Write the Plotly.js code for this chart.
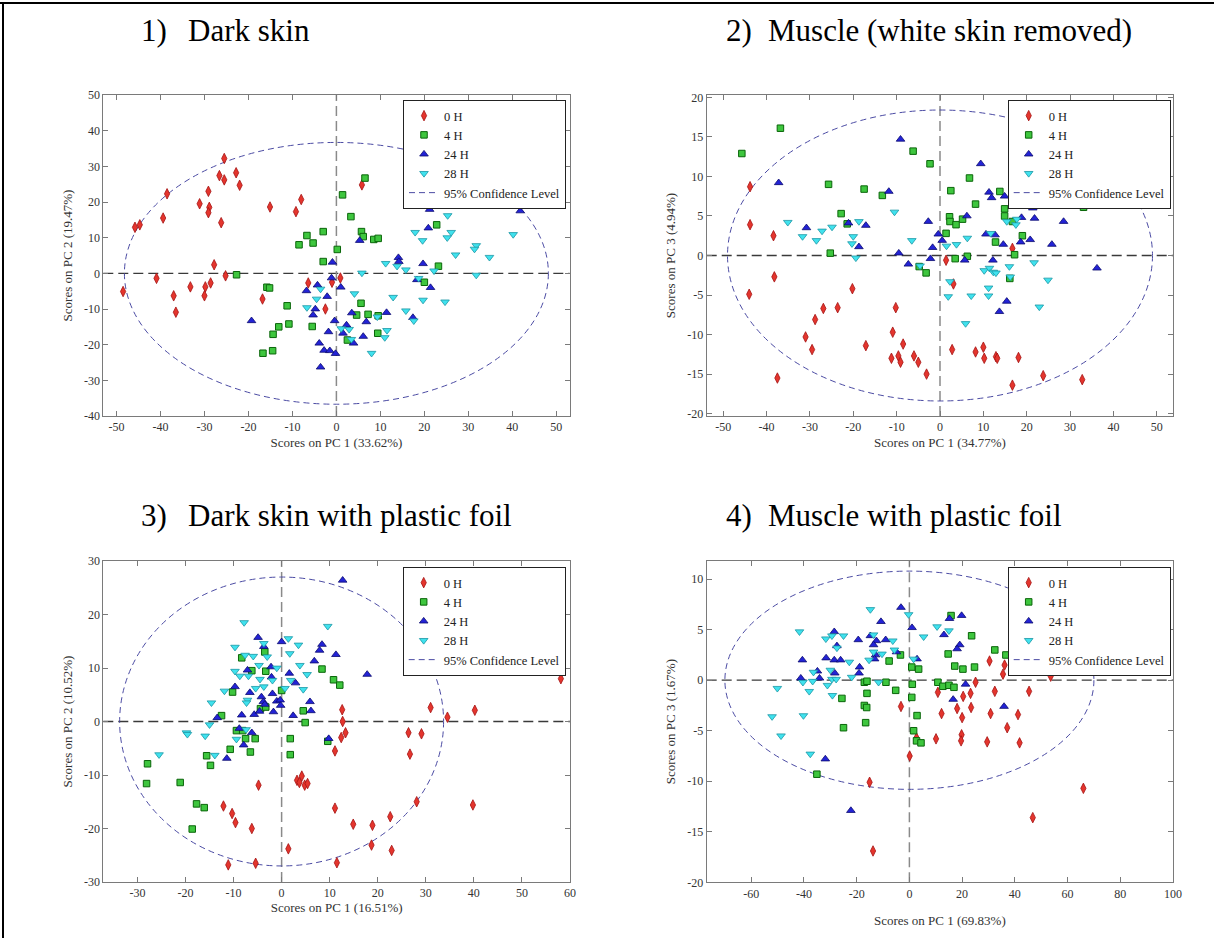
<!DOCTYPE html>
<html>
<head>
<meta charset="utf-8">
<script src="https://cdn.plot.ly/plotly-3.0.1.min.js"></script>
<style>html,body{margin:0;padding:0;background:#fff;}#chart{width:1214px;height:938px;}</style>
</head>
<body>
<div id="chart"></div>
<script>
// ---------------- DATA ----------------
const groupNames = ['0 H', '4 H', '24 H', '28 H'];
const confName = '95% Confidence Level';
const panelTitles = ['Dark skin', 'Muscle (white skin removed)', 'Dark skin with plastic foil', 'Muscle with plastic foil'];
const panelNumbers = ['1)', '2)', '3)', '4)'];
const xTitles = ['Scores on PC 1 (33.62%)', 'Scores on PC 1 (34.77%)', 'Scores on PC 1 (16.51%)', 'Scores on PC 1 (69.83%)'];
const yTitles = ['Scores on PC 2 (19.47%)', 'Scores on PC 3 (4.94%)', 'Scores on PC 2 (10.52%)', 'Scores on PC 3 (1.67%)'];

// 95% confidence ellipse semi-axes (PC x, PC y)
const ellipseA = [48.2, 49.0, 33.7, 70.0];
const ellipseB = [36.7, 18.4, 27.0, 10.8];

// tick labels
const p1_xticks = [-50, -40, -30, -20, -10, 0, 10, 20, 30, 40, 50];
const p1_yticks = [-40, -30, -20, -10, 0, 10, 20, 30, 40, 50];
const p2_xticks = [-50, -40, -30, -20, -10, 0, 10, 20, 30, 40, 50];
const p2_yticks = [-20, -15, -10, -5, 0, 5, 10, 15, 20];
const p3_xticks = [-30, -20, -10, 0, 10, 20, 30, 40, 50, 60];
const p3_yticks = [-30, -20, -10, 0, 10, 20, 30];
const p4_xticks = [-60, -40, -20, 0, 20, 40, 60, 80, 100];
const p4_yticks = [-20, -15, -10, -5, 0, 5, 10];

// ---- Panel 1: Dark skin ----
const p1_h0_x = [-45.8, -44.7, -48.5, -38.5, -39.4, -40.9, -37.0, -36.5, -33.2, -31.1, -29.8, -30.0, -29.1, -28.9, -29.1, -28.6, -27.8, -26.2, -26.6, -25.5, -25.5, -22.8, -22.0, -25.2, -16.8, -15.1, -9.2, -8.0, -6.4, 5.8, -1.0, 0.9, -2.5];
const p1_h0_y = [12.9, 13.6, -5.1, 22.3, 15.5, -1.4, -6.3, -10.9, -3.8, 19.5, -3.8, -6.3, 23.0, 18.5, 17.0, -2.7, 2.4, 14.2, 27.4, 32.2, 26.2, 28.2, 24.7, -0.7, -7.2, 18.6, 17.3, 20.7, -2.7, 24.8, -2.5, -1.3, -10.0];
const p1_h4_x = [-22.7, -6.7, -8.5, -5.3, -15.8, -15.2, -11.2, -10.8, -13.1, -14.4, -14.5, -16.7, -5.5, 6.5, 1.4, 3.3, -3.0, 5.7, 6.1, 8.5, 9.5, 0.2, -3.0, 22.8, 23.2, 20.0, 5.6, 4.6, 7.2, 9.5, 9.4, 2.5];
const p1_h4_y = [-0.4, 10.6, 8.0, 8.5, -3.9, -4.1, -9.1, -14.2, -15.0, -17.1, -21.7, -22.4, -14.9, 26.7, 22.0, 15.9, 11.7, 11.7, 10.3, 9.5, 9.8, 6.7, 3.3, 13.6, 2.0, -2.5, -8.4, -11.7, -11.5, -11.9, -16.8, -18.7];
const p1_h24_x = [-19.3, -6.8, -5.3, 21.2, 20.9, 41.8, 5.3, -0.9, 14.1, 14.2, 19.7, -1.1, 1.0, 18.3, 21.4, -4.3, -2.1, -4.8, 3.5, 6.8, 11.4, 17.4, -0.4, -1.8, 2.3, 1.5, -3.9, -2.8, -1.5, -0.2, 3.9, 6.1, -3.6];
const p1_h24_y = [-13.3, -4.9, -11.7, 17.9, 12.7, 17.5, 9.2, 3.1, 4.4, 3.3, 2.7, -1.3, -3.9, -1.8, -4.0, -3.3, -6.5, -10.0, -11.1, -13.6, -11.0, -12.4, -13.3, -16.4, -14.5, -16.8, -19.6, -21.6, -21.7, -22.5, -19.6, -17.7, -26.3];
const p1_h28_x = [-6.7, 25.3, 17.9, 26.1, 19.6, 25.2, 40.2, 31.8, 31.4, 27.1, 34.8, 11.2, 13.8, 15.8, 5.8, 22.2, 31.8, 18.7, -3.6, -4.5, 4.1, 12.9, 19.7, 24.7, 15.8, 17.6, 9.3, 1.1, 2.9, 11.5, 11.0, 3.4, 8.0];
const p1_h28_y = [-9.6, 16.2, 11.5, 11.5, 9.2, 10.0, 10.9, 7.8, 6.8, 5.2, 4.5, 2.8, 2.0, 1.0, 0.1, 0.7, -0.5, -1.4, -4.4, -7.2, -5.7, -6.7, -7.5, -8.0, -10.5, -13.3, -12.2, -15.5, -15.7, -16.0, -18.0, -18.5, -22.4];

// ---- Panel 2: Muscle (white skin removed) ----
const p2_h0_x = [-43.8, -43.8, -44.0, -38.4, -38.2, -37.5, -31.0, -29.5, -28.8, -26.9, -23.6, -20.2, -17.1, -10.2, -10.9, -8.5, -11.2, -9.6, -9.1, -6.0, -5.0, -3.1, 1.4, 3.1, 2.8, 8.2, 10.0, 10.2, 12.9, 13.2, 18.1, 16.7, 23.8, 32.8, 16.7];
const p2_h0_y = [8.7, 3.9, -4.9, 2.5, -2.7, -15.5, -10.3, -11.9, -8.1, -6.7, -6.6, -4.2, -11.4, -6.6, -9.7, -11.2, -13.0, -12.7, -13.5, -12.7, -13.5, -15.0, -0.6, -3.6, -11.9, -12.2, -11.6, -13.0, -12.8, -13.0, -12.9, -16.4, -15.2, -15.7, 0.9];
const p2_h4_x = [-45.7, -36.8, -25.7, -17.5, -13.3, -22.8, -21.4, -25.3, -6.2, -4.8, -2.3, 6.8, 2.5, 13.8, 21.8, 8.2, 14.9, 14.9, 2.2, 2.3, 3.7, 5.2, 16.7, 33.1, 1.4, 12.8, 19.0, 17.2, 6.3, 3.5, -3.2, 16.1];
const p2_h4_y = [12.9, 16.1, 9.0, 8.4, 7.6, 5.3, 4.0, 0.3, 13.2, -1.4, 11.6, 9.8, 8.2, 8.1, 7.8, 6.5, 5.9, 5.0, 4.9, 4.3, 3.9, 4.6, 4.3, 6.1, 2.8, 1.7, 2.5, 0.1, -0.1, -0.4, -2.2, -2.9];
const p2_h24_x = [-37.2, -30.8, -21.1, -17.1, -18.7, -11.8, -9.1, -9.5, -7.3, 9.4, 11.3, 11.9, 14.9, 27.3, 21.4, 21.8, 28.5, 18.8, 6.2, -2.7, -0.4, 0.5, -1.7, -2.2, 10.6, 12.7, 14.6, 18.6, 20.8, 25.8, 12.2, 5.7, 15.4, 13.7, 36.2];
const p2_h24_y = [9.2, 3.5, 4.1, 3.8, 1.1, 8.1, 14.7, 0.3, -1.1, 11.6, 8.0, 7.3, 7.5, 7.6, 6.0, 4.7, 4.3, 4.8, 5.0, 4.3, 2.7, 1.9, 1.0, -0.4, 2.7, 2.6, 1.4, 1.7, 2.0, 1.4, -0.6, -0.6, -5.8, -7.1, -1.6];
const p2_h28_x = [-35.1, -31.7, -28.5, -27.2, -24.9, -20.0, -18.7, -20.3, -19.4, -10.5, -6.5, -4.6, 1.5, 3.8, 6.3, 11.7, 15.4, 17.5, 17.7, 10.2, 11.4, 12.3, 12.9, 16.0, 16.2, 21.7, 24.9, 2.3, 1.9, 7.2, 11.2, 11.2, 22.9, 5.9];
const p2_h28_y = [4.2, 2.4, 1.9, 3.1, 3.6, 2.4, 4.3, 1.5, -0.3, 5.5, 1.9, -1.3, 1.2, 1.4, 2.2, 2.8, 4.3, 3.9, 4.6, -1.9, -1.6, -2.1, -2.2, -1.4, -2.7, -0.9, -3.1, -3.3, -5.2, -5.1, -4.1, -5.1, -6.5, -8.6];

// ---- Panel 3: Dark skin with plastic foil ----
const p3_h0_x = [-11.1, -5.4, 1.4, -12.1, -10.3, -9.6, -4.8, -6.2, 4.2, 3.2, 3.7, 4.8, 5.4, 58.1, 12.6, 12.7, 12.4, 13.3, 11.1, 31.0, 34.5, 40.2, 26.4, 29.1, 26.7, 28.1, 39.8, 11.1, 14.9, 18.9, 22.6, 18.7, 22.9, 11.5];
const p3_h0_y = [-26.8, -26.5, -23.8, -15.8, -17.2, -18.9, -11.9, -20.0, -10.2, -11.0, -11.4, -11.9, -11.6, 8.0, 2.2, 0.0, -3.0, -2.1, -5.5, 2.6, 0.8, 2.1, -2.1, -2.3, -6.1, -15.0, -15.6, -16.2, -19.2, -19.4, -17.8, -23.1, -24.1, -26.4];
const p3_h4_x = [-27.9, -28.1, -21.1, -17.7, -16.1, -18.6, -15.6, -14.8, -12.5, -10.7, -9.4, -8.1, -7.5, -5.5, -6.5, -10.2, -8.3, -6.2, -3.3, -3.5, -4.4, -3.3, 0.0, 4.5, 4.9, 1.8, 1.8, 8.4, 10.8, 12.1, 9.6];
const p3_h4_y = [-7.9, -11.6, -11.4, -15.4, -16.1, -20.1, -6.4, -8.2, 1.1, -5.2, -1.7, -1.7, -3.2, -3.2, -5.7, 5.5, 11.9, 9.5, 9.4, 13.0, 2.4, 2.7, 5.8, 2.0, -0.2, -3.2, -6.2, 9.8, 7.8, 6.8, -3.7];
const p3_h24_x = [-11.4, -13.4, -9.7, -8.3, -8.8, -7.9, -6.2, -7.1, -6.6, -4.9, -3.7, -4.2, -3.8, -5.7, -4.6, -3.5, -2.2, -2.1, -1.9, -1.7, -1.0, -0.3, -0.2, 0.0, 1.6, 2.9, 2.4, 5.9, 6.1, 6.8, 12.7, 8.4, 7.9, 11.3, 17.8, 9.8];
const p3_h24_y = [-6.9, 0.7, 6.5, 1.2, -1.3, -4.4, -2.1, 9.6, 5.4, 15.7, 14.0, 4.6, 3.7, 1.3, 1.9, 3.2, 10.2, 8.3, 5.2, 1.8, 3.8, 4.0, 3.0, 14.9, 9.0, 7.2, 1.1, 3.7, 2.0, 11.3, 26.4, 14.4, 13.3, 12.5, 8.8, -3.2];
const p3_h28_x = [-25.5, -19.8, -19.6, -15.9, -13.9, -15.0, -14.6, -11.9, -7.8, -9.7, -9.7, -8.7, -7.6, -5.9, -6.9, -7.1, -7.3, -5.4, -4.5, -4.7, -3.7, -3.0, -3.7, -1.9, -1.0, -9.4, -7.4, 0.7, 1.4, 1.7, 1.9, 3.5, 3.8, 4.5, 5.3, 9.6];
const p3_h28_y = [-6.2, -2.1, -2.4, -2.7, -6.3, -0.6, 3.5, 5.7, 18.5, 13.9, 9.4, 8.5, 12.4, 12.2, 8.5, 4.0, 3.5, 6.2, 7.9, 10.5, 14.6, 12.1, 6.5, 7.7, 10.0, -3.3, -1.5, 6.2, 15.5, 12.7, 7.7, 14.3, 10.5, 6.0, 8.8, 17.8];

// ---- Panel 4: Muscle with plastic foil ----
const p4_h0_x = [-3.2, 0.1, -15.1, -13.8, 2.7, 30.4, 36.1, 35.5, 25.1, 23.2, 20.4, 10.8, 32.4, 45.4, 51.3, 53.6, 12.2, 18.1, 23.4, 20.0, 30.8, 41.2, 37.1, 19.8, 19.6, 10.1, 29.5, 41.8, 66.0, 46.8];
const p4_h0_y = [-2.6, -7.5, -10.1, -16.9, -5.7, 1.9, 1.5, 0.6, -0.2, -1.3, -1.6, -1.2, -1.1, -1.1, 1.1, 0.4, -3.3, -2.8, -2.7, -3.7, -3.3, -3.4, -4.7, -5.4, -6.0, -5.8, -6.1, -6.2, -10.7, -13.6];
const p4_h4_x = [-35.1, -25.0, -25.6, -17.1, -16.1, -16.1, -17.1, -16.2, -16.6, -8.9, -5.2, -7.7, -3.4, 0.9, 3.5, 1.1, 0.9, 2.9, 1.6, 2.7, 4.4, 15.8, 23.6, 14.7, 32.4, 36.6, 17.2, 20.3, 24.7, 10.8, 12.7, 15.0, 16.9];
const p4_h4_y = [-9.3, -4.7, -1.8, -0.2, -0.1, -1.3, -2.5, -2.7, -4.2, -0.2, -1.0, 1.9, 2.5, 1.3, 1.1, -0.4, -1.7, -3.5, -5.0, -6.0, -6.2, 6.4, 4.4, 2.6, 3.0, 2.5, 1.4, 1.1, 1.3, -0.2, -0.6, -0.5, -0.7];
const p4_h24_x = [-3.2, 1.0, -10.8, -14.8, -12.5, -13.6, -9.0, -19.4, -27.5, -28.5, -31.6, -28.5, -26.1, -40.6, -18.9, -19.1, -34.9, -34.1, -28.3, -41.2, -12.8, -13.2, -4.9, 2.9, -31.9, -22.2, 15.2, 19.8, 13.1, 19.1, 18.1, 21.3, 16.6, 35.9];
const p4_h24_y = [7.2, 5.2, 5.8, 4.4, 3.9, 3.5, 4.0, 4.0, 3.4, 4.8, 2.2, 2.0, 2.0, 2.0, 1.3, 0.7, 0.9, 0.2, 0.7, 0.2, 2.5, 2.1, 2.8, 2.1, -7.8, -12.9, 6.1, 6.4, 4.5, 3.5, 3.1, -0.4, -1.9, -2.6];
const p4_h28_x = [-41.7, -50.1, -52.1, -48.7, -40.2, -37.6, -38.0, -40.4, -36.7, -36.4, -31.7, -29.4, -25.0, -27.5, -31.1, -30.0, -29.4, -27.8, -29.2, -22.8, -21.9, -14.8, -13.6, -15.3, -13.6, -11.7, -10.4, -6.3, -5.7, -0.3, 1.6, 10.5, 15.0, 5.4];
const p4_h28_y = [4.8, -0.8, -3.6, -5.5, -3.5, -7.3, -1.1, -0.2, -0.1, 0.8, 4.1, 4.4, 4.4, 3.2, -0.5, 1.0, 0.1, 0.1, -1.5, 1.8, 0.3, 7.0, 4.5, 2.0, 2.8, -0.2, 2.6, 3.9, 3.0, 6.5, 2.1, 5.3, 4.9, 4.3];

// ---------------- STYLE / BUILD ----------------
const SERIF = 'Liberation Serif';
const W = 1214, H = 938;
const px = v => v / W;
const py = v => 1 - v / H;

const markerStyles = [
  {symbol: 'diamond-tall', size: 7.5, color: '#e4352d', line: {color: '#a51313', width: 0.8}},
  {symbol: 'square', size: 6.5, color: '#3ec63e', line: {color: '#0a650a', width: 1}},
  {symbol: 'triangle-up', size: 7.5, color: '#2323d6', line: {color: '#0b0b6e', width: 0.8}},
  {symbol: 'triangle-down', size: 7.5, color: '#40e2ee', line: {color: '#1b97a5', width: 0.8}}
];
const ellColor = '#4b4ba3';

const panels = [
  {xs: [p1_h0_x, p1_h4_x, p1_h24_x, p1_h28_x], ys: [p1_h0_y, p1_h4_y, p1_h24_y, p1_h28_y], xt: p1_xticks, yt: p1_yticks,
   xr: [-53, 53], yr: [-40, 50], xd: [px(103.3), px(569.5)], yd: [py(416), py(95)], leg: [566, 100], xstand: 4, ystand: 8},
  {xs: [p2_h0_x, p2_h4_x, p2_h24_x, p2_h28_x], ys: [p2_h0_y, p2_h4_y, p2_h24_y, p2_h28_y], xt: p2_xticks, yt: p2_yticks,
   xr: [-53.8, 53.8], yr: [-20.3, 20.3], xd: [px(706.7), px(1173.3)], yd: [py(416), py(95)], leg: [1170.7, 100], xstand: 4, ystand: 8},
  {xs: [p3_h0_x, p3_h4_x, p3_h24_x, p3_h28_x], ys: [p3_h0_y, p3_h4_y, p3_h24_y, p3_h28_y], xt: p3_xticks, yt: p3_yticks,
   xr: [-37.1, 60], yr: [-30, 30], xd: [px(103.3), px(570)], yd: [py(882), py(561)], leg: [565.7, 567], xstand: 2, ystand: 8},
  {xs: [p4_h0_x, p4_h4_x, p4_h24_x, p4_h28_x], ys: [p4_h0_y, p4_h4_y, p4_h24_y, p4_h28_y], xt: p4_xticks, yt: p4_yticks,
   xr: [-76.9, 100], yr: [-20, 11.8], xd: [px(706.7), px(1173)], yd: [py(882.3), py(561)], leg: [1170.7, 567], xstand: 16, ystand: 8}
];

const traces = [];
const shapes = [];
const annotations = [];
const layout = {
  width: W, height: H,
  margin: {l: 0, r: 0, t: 0, b: 0},
  paper_bgcolor: '#ffffff', plot_bgcolor: '#ffffff',
  font: {family: SERIF, size: 12, color: '#333'},
  showlegend: true,
  shapes: shapes, annotations: annotations
};

panels.forEach((p, i) => {
  const n = i + 1;
  const xa = 'x' + (n === 1 ? '' : n), ya = 'y' + (n === 1 ? '' : n);
  const legName = 'legend' + (n === 1 ? '' : n);
  for (let g = 0; g < 4; g++) {
    traces.push({
      type: 'scatter', mode: 'markers', x: p.xs[g], y: p.ys[g],
      xaxis: xa, yaxis: ya, name: groupNames[g], legend: legName,
      marker: markerStyles[g], cliponaxis: true, hoverinfo: 'x+y+name'
    });
  }
  traces.push({
    type: 'scatter', mode: 'lines', x: [null], y: [null], xaxis: xa, yaxis: ya,
    name: confName, legend: legName, line: {color: ellColor, dash: '6px,4px', width: 1}
  });
  const axCommon = {
    showgrid: false, zeroline: false, showline: true, mirror: 'ticks',
    linecolor: '#7a7a7a', linewidth: 1, ticks: 'inside', ticklen: 5, tickcolor: '#7a7a7a',
    tickfont: {family: SERIF, size: 12, color: '#333'}, automargin: false, fixedrange: true
  };
  layout['xaxis' + (n === 1 ? '' : n)] = Object.assign({}, axCommon, {
    domain: p.xd, range: p.xr, anchor: ya, tickmode: 'array', tickvals: p.xt, ticktext: p.xt.map(String),
    title: {text: xTitles[i], font: {family: SERIF, size: 13, color: '#333'}, standoff: p.xstand}
  });
  layout['yaxis' + (n === 1 ? '' : n)] = Object.assign({}, axCommon, {
    domain: p.yd, range: p.yr, anchor: xa, tickmode: 'array', tickvals: p.yt, ticktext: p.yt.map(String),
    title: {text: yTitles[i], font: {family: SERIF, size: 13, color: '#333'}, standoff: p.ystand}
  });
  layout[legName] = {
    x: px(p.leg[0]), y: py(p.leg[1]), xanchor: 'right', yanchor: 'top',
    bgcolor: '#ffffff', bordercolor: '#222', borderwidth: 1,
    font: {family: SERIF, size: 12.5, color: '#222'}, tracegroupgap: 0, itemwidth: 30
  };
  // zero lines
  shapes.push({type: 'line', xref: xa + ' domain', yref: ya, x0: 0, x1: 1, y0: 0, y1: 0,
    line: {color: '#3a3a3a', width: 1.3, dash: '10px,5px'}, layer: 'below'});
  shapes.push({type: 'line', xref: xa, yref: ya + ' domain', x0: 0, x1: 0, y0: 0, y1: 1,
    line: {color: '#8a8a8a', width: 1.5, dash: '10px,5px'}, layer: 'below'});
  // confidence ellipse
  shapes.push({type: 'circle', xref: xa, yref: ya, x0: -ellipseA[i], x1: ellipseA[i], y0: -ellipseB[i], y1: ellipseB[i],
    line: {color: ellColor, width: 1, dash: '6px,4px'}, fillcolor: 'rgba(0,0,0,0)', layer: 'below'});
});

// panel headings
const headNumX = [139, 724, 139, 724];
const headTextX = [186, 766, 186, 766];
const headY = [30, 30, 515, 515];
for (let i = 0; i < 4; i++) {
  annotations.push({xref: 'paper', yref: 'paper', x: px(headNumX[i]), y: py(headY[i]), xanchor: 'left', yanchor: 'middle',
    text: panelNumbers[i], showarrow: false, font: {family: SERIF, size: 31, color: '#000'}});
  annotations.push({xref: 'paper', yref: 'paper', x: px(headTextX[i]), y: py(headY[i]), xanchor: 'left', yanchor: 'middle',
    text: panelTitles[i], showarrow: false, font: {family: SERIF, size: 31, color: '#000'}});
}
// page frame (top and left rules)
shapes.push({type: 'line', xref: 'paper', yref: 'paper', x0: 0, x1: 1, y0: py(3), y1: py(3), line: {color: '#000', width: 2}});
shapes.push({type: 'line', xref: 'paper', yref: 'paper', x0: px(3), x1: px(3), y0: 0, y1: py(3), line: {color: '#000', width: 2}});

Plotly.newPlot('chart', traces, layout, {displayModeBar: false, staticPlot: true});
</script>
</body>
</html>
